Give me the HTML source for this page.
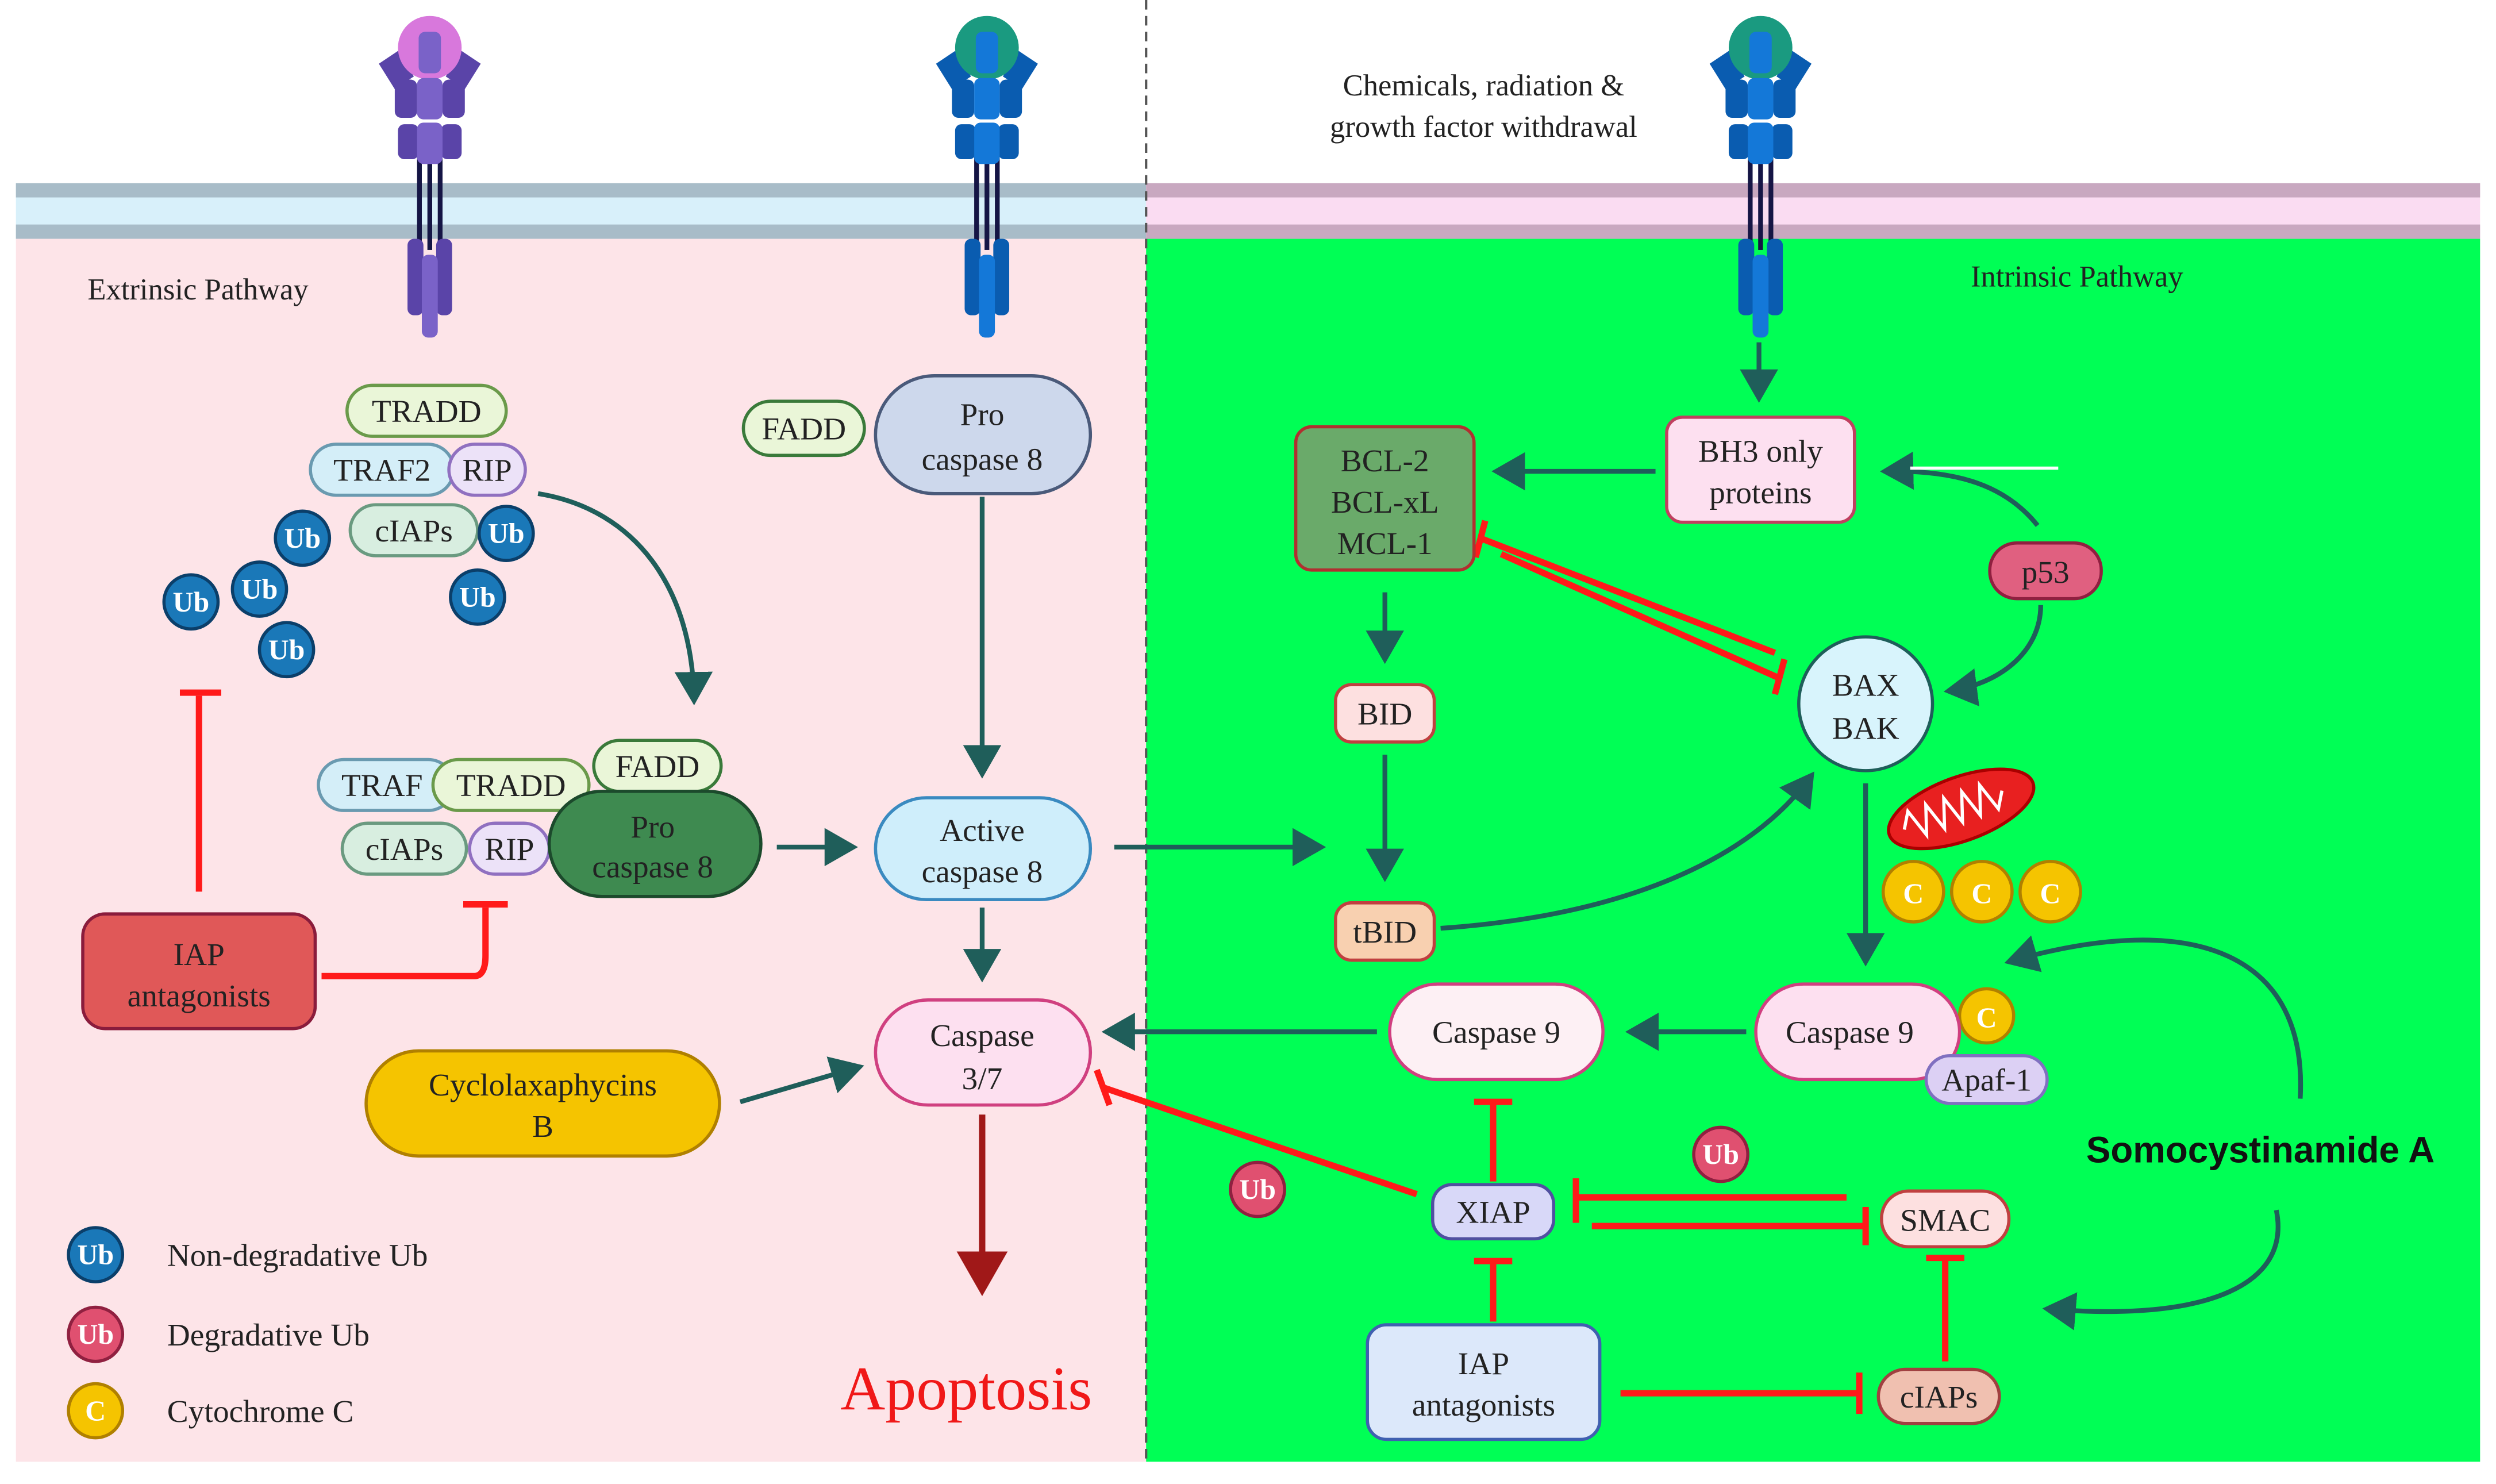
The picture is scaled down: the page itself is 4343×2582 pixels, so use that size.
<!DOCTYPE html>
<html><head><meta charset="utf-8"><style>
html,body{margin:0;padding:0;background:#fff}
svg{display:block}
text{font-family:"Liberation Serif",serif;fill:#222}
</style></head><body>
<svg width="4343" height="2582" viewBox="0 0 1568 932" preserveAspectRatio="none" xmlns="http://www.w3.org/2000/svg">
<defs>
<marker id="ah" markerWidth="8" markerHeight="8" refX="6" refY="4" orient="auto" markerUnits="strokeWidth"><path d="M0,0 L7,4 L0,8 Z" fill="#1f5e5a"/></marker>
<marker id="ahr" markerWidth="8" markerHeight="8" refX="6" refY="4" orient="auto" markerUnits="strokeWidth"><path d="M0,0 L7,4 L0,8 Z" fill="#a01818"/></marker>
<g id="rec">
  <rect x="-8" y="97" width="3" height="55" fill="#151545"/>
  <rect x="-1.5" y="97" width="3" height="60" fill="#151545"/>
  <rect x="5" y="97" width="3" height="55" fill="#151545"/>
  <path d="M-32,40 l12,-8 l10,16 l-12,8z" style="fill:var(--d)"/>
  <path d="M32,40 l-12,-8 l-10,16 l12,8z" style="fill:var(--d)"/>
  <circle cx="0" cy="30" r="20" style="fill:var(--h)"/>
  <rect x="-7" y="20" width="14" height="26" rx="4" style="fill:var(--l)"/>
  <rect x="-22" y="50" width="14" height="24" rx="4" style="fill:var(--d)"/>
  <rect x="8" y="50" width="14" height="24" rx="4" style="fill:var(--d)"/>
  <rect x="-8" y="49" width="16" height="26" rx="4" style="fill:var(--l)"/>
  <rect x="-20" y="78" width="13" height="22" rx="4" style="fill:var(--d)"/>
  <rect x="7" y="78" width="13" height="22" rx="4" style="fill:var(--d)"/>
  <rect x="-8" y="77" width="16" height="26" rx="4" style="fill:var(--l)"/>
  <rect x="-14" y="150" width="10" height="48" rx="4" style="fill:var(--d)"/>
  <rect x="4" y="150" width="10" height="48" rx="4" style="fill:var(--d)"/>
  <rect x="-5" y="160" width="10" height="52" rx="4" style="fill:var(--l)"/>
</g>
</defs>
<!-- membrane -->
<rect x="10" y="115" width="710" height="35" fill="#d8f0fa"/>
<rect x="10" y="115" width="710" height="9" fill="#a8bcc8"/>
<rect x="10" y="141" width="710" height="9" fill="#a8bcc8"/>
<rect x="720" y="115" width="838" height="35" fill="#fadcf2"/>
<rect x="720" y="115" width="838" height="9" fill="#c8a8c0"/>
<rect x="720" y="141" width="838" height="9" fill="#c8a8c0"/>
<!-- panels -->
<rect x="10" y="150" width="710" height="768" fill="#fde4e8"/>
<rect x="720" y="150" width="838" height="768" fill="#00ff55"/>
<line x1="720" y1="0" x2="720" y2="918" stroke="#555" stroke-width="1.5" stroke-dasharray="6,4"/>
<g style="--d:#5a44a8;--l:#7a62c8;--h:#d878dc" transform="translate(270,0)"><use href="#rec"/></g>
<g style="--d:#0a5cb0;--l:#1478d8;--h:#1a9a80" transform="translate(620,0)"><use href="#rec"/></g>
<g style="--d:#0a5cb0;--l:#1478d8;--h:#1a9a80" transform="translate(1106,0)"><use href="#rec"/></g>

<text x="55" y="188" font-size="19">Extrinsic Pathway</text>
<text x="1238" y="180" font-size="19">Intrinsic Pathway</text>
<text x="932" y="60" font-size="19" text-anchor="middle">Chemicals, radiation &amp;</text>
<text x="932" y="86" font-size="19" text-anchor="middle">growth factor withdrawal</text>

<g font-size="20" text-anchor="middle">
<rect x="218" y="242" width="100" height="32" rx="16" fill="#eaf6d8" stroke="#6a9a4a" stroke-width="2"/><text x="268" y="265">TRADD</text>
<rect x="195" y="279" width="90" height="32" rx="16" fill="#d4eef8" stroke="#6a9ab0" stroke-width="2"/><text x="240" y="302">TRAF2</text>
<rect x="282" y="279" width="48" height="32" rx="16" fill="#ece2f8" stroke="#9070c0" stroke-width="2"/><text x="306" y="302">RIP</text>
<rect x="220" y="317" width="80" height="32" rx="16" fill="#d8eee0" stroke="#6a9a80" stroke-width="2"/><text x="260" y="340">cIAPs</text>
</g>
<g font-size="18" font-weight="bold" text-anchor="middle">
<g fill="#1a78b8" stroke="#0b3f6a" stroke-width="2">
<circle cx="190" cy="338" r="17"/><circle cx="318" cy="335" r="17"/><circle cx="300" cy="375" r="17"/>
<circle cx="163" cy="370" r="17"/><circle cx="120" cy="378" r="17"/><circle cx="180" cy="408" r="17"/>
<circle cx="60" cy="788" r="17"/>
</g>
<text x="190" y="344" style="fill:#fff">Ub</text><text x="318" y="341" style="fill:#fff">Ub</text><text x="300" y="381" style="fill:#fff">Ub</text>
<text x="163" y="376" style="fill:#fff">Ub</text><text x="120" y="384" style="fill:#fff">Ub</text><text x="180" y="414" style="fill:#fff">Ub</text>
<text x="60" y="794" style="fill:#fff">Ub</text>
<g fill="#e05070" stroke="#902040" stroke-width="2">
<circle cx="60" cy="838" r="17"/><circle cx="790" cy="747" r="17"/><circle cx="1081" cy="725" r="17"/>
</g>
<text x="60" y="844" style="fill:#fff">Ub</text><text x="790" y="753" style="fill:#fff">Ub</text><text x="1081" y="731" style="fill:#fff">Ub</text>
<g fill="#f5c400" stroke="#b08000" stroke-width="2">
<circle cx="60" cy="886" r="17"/><circle cx="1202" cy="560" r="19"/><circle cx="1245" cy="560" r="19"/><circle cx="1288" cy="560" r="19"/><circle cx="1248" cy="638" r="17"/>
</g>
<text x="60" y="892" style="fill:#fff">C</text><text x="1202" y="567" style="fill:#fff">C</text><text x="1245" y="567" style="fill:#fff">C</text><text x="1288" y="567" style="fill:#fff">C</text><text x="1248" y="645" style="fill:#fff">C</text>
</g>
<g font-size="20">
<text x="105" y="795">Non-degradative Ub</text>
<text x="105" y="845">Degradative Ub</text>
<text x="105" y="893">Cytochrome C</text>
</g>

<path d="M338,310 C400,320 435,370 436,440" fill="none" stroke="#1f5e5a" stroke-width="3" marker-end="url(#ah)"/>

<g font-size="20" text-anchor="middle">
<rect x="200" y="477" width="85" height="32" rx="16" fill="#d4eef8" stroke="#6a9ab0" stroke-width="2"/><text x="240" y="500">TRAF</text>
<rect x="272" y="477" width="98" height="32" rx="16" fill="#eaf6d8" stroke="#6a9a4a" stroke-width="2"/><text x="321" y="500">TRADD</text>
<rect x="373" y="465" width="80" height="32" rx="16" fill="#eaf6d8" stroke="#3a7a3a" stroke-width="2"/><text x="413" y="488">FADD</text>
<rect x="215" y="517" width="78" height="32" rx="16" fill="#d8eee0" stroke="#6a9a80" stroke-width="2"/><text x="254" y="540">cIAPs</text>
<rect x="295" y="517" width="50" height="32" rx="16" fill="#ece2f8" stroke="#9070c0" stroke-width="2"/><text x="320" y="540">RIP</text>
<rect x="345" y="497" width="133" height="66" rx="33" fill="#3e8a50" stroke="#1c4a2c" stroke-width="2"/><text x="410" y="526">Pro</text><text x="410" y="551">caspase 8</text>

<rect x="467" y="252" width="76" height="34" rx="17" fill="#eaf6d8" stroke="#3a7a3a" stroke-width="2"/><text x="505" y="276">FADD</text>
<rect x="550" y="236" width="135" height="74" rx="37" fill="#cdd8ec" stroke="#4a5a7a" stroke-width="2"/><text x="617" y="267">Pro</text><text x="617" y="295">caspase 8</text>

<rect x="550" y="501" width="135" height="64" rx="32" fill="#cfeefb" stroke="#3a8ac0" stroke-width="2"/><text x="617" y="528">Active</text><text x="617" y="554">caspase 8</text>
<rect x="550" y="628" width="135" height="66" rx="33" fill="#fde0f0" stroke="#d04080" stroke-width="2"/><text x="617" y="657">Caspase</text><text x="617" y="684">3/7</text>

<rect x="52" y="574" width="146" height="72" rx="14" fill="#e05858" stroke="#8a1c3c" stroke-width="2"/><text x="125" y="606">IAP</text><text x="125" y="632">antagonists</text>
<rect x="230" y="660" width="222" height="66" rx="33" fill="#f5c400" stroke="#b08000" stroke-width="2"/><text x="341" y="688">Cyclolaxaphycins</text><text x="341" y="714">B</text>
</g>
<text x="607" y="885" font-size="39" text-anchor="middle" style="fill:#f01818">Apoptosis</text>

<g stroke="#1f5e5a" stroke-width="3" fill="none" marker-end="url(#ah)">
<line x1="617" y1="312" x2="617" y2="486"/>
<line x1="488" y1="532" x2="536" y2="532"/>
<line x1="700" y1="532" x2="830" y2="532"/>
<line x1="617" y1="570" x2="617" y2="614"/>
<line x1="465" y1="692" x2="540" y2="670"/>
<line x1="1105" y1="215" x2="1105" y2="250"/>
<line x1="1040" y1="296" x2="940" y2="296"/>
<line x1="870" y1="372" x2="870" y2="414"/>
<line x1="870" y1="474" x2="870" y2="551"/>
<line x1="1172" y1="492" x2="1172" y2="604"/>
<line x1="1097" y1="648" x2="1024" y2="648"/>
<line x1="865" y1="648" x2="695" y2="648"/>
<path d="M905,583 C1020,575 1100,540 1138,487"/>
<path d="M1280,330 C1260,305 1230,295 1184,296"/>
<path d="M1282,380 C1282,410 1255,430 1224,434"/>
<path d="M1445,690 C1450,600 1380,570 1262,604"/>
<path d="M1430,760 C1440,810 1380,830 1286,822"/>
</g>
<line x1="1200" y1="294" x2="1293" y2="294" stroke="#fff" stroke-width="2"/>
<line x1="617" y1="700" x2="617" y2="810" stroke="#a01818" stroke-width="4" marker-end="url(#ahr)"/>

<g stroke="#ff1a1a" stroke-width="4" fill="none">
<path d="M125,560 V437"/><path d="M113,435 H139"/>
<path d="M202,613 H298 Q305,613 305,600 V570"/><path d="M291,568 H319"/>
<path d="M930,338 L1115,410"/><path d="M943,348 L1118,426"/>
<path d="M933,327 L927,350"/><path d="M1121,414 L1115,436"/>
<path d="M890,750 L693,683"/><path d="M689,672 L697,694"/>
<path d="M938,742 V693"/><path d="M926,692 H950"/>
<path d="M1160,752 H990"/><path d="M990,740 V768"/>
<path d="M1000,770 H1172"/><path d="M1172,758 V782"/>
<path d="M938,830 V792"/><path d="M926,792 H950"/>
<path d="M1018,875 H1168"/><path d="M1168,862 V888"/>
<path d="M1222,855 V790"/><path d="M1210,790 H1234"/>
</g>

<g transform="translate(1232,508) rotate(-20)">
<ellipse cx="0" cy="0" rx="48" ry="20" fill="#e82020" stroke="#a00" stroke-width="2"/>
<path d="M-38,0 l6,-10 l6,18 l6,-18 l6,18 l6,-18 l6,18 l6,-18 l6,18 l6,-18 l6,18 l6,-10" fill="none" stroke="#fff" stroke-width="2"/>
</g>

<g font-size="20" text-anchor="middle">
<rect x="1047" y="262" width="118" height="66" rx="10" fill="#fde0f0" stroke="#c04060" stroke-width="2"/><text x="1106" y="290">BH3 only</text><text x="1106" y="316">proteins</text>
<rect x="814" y="268" width="112" height="90" rx="10" fill="#6aaa6a" stroke="#b03030" stroke-width="2"/><text x="870" y="296">BCL-2</text><text x="870" y="322">BCL-xL</text><text x="870" y="348">MCL-1</text>
<rect x="1250" y="341" width="70" height="35" rx="17" fill="#e06080" stroke="#902040" stroke-width="2"/><text x="1285" y="366">p53</text>
<circle cx="1172" cy="442" r="42" fill="#d8f4fc" stroke="#1f5e5a" stroke-width="2"/><text x="1172" y="437">BAX</text><text x="1172" y="464">BAK</text>
<rect x="839" y="430" width="62" height="36" rx="10" fill="#fde0e0" stroke="#c04040" stroke-width="2"/><text x="870" y="455">BID</text>
<rect x="839" y="567" width="62" height="36" rx="10" fill="#f8d0b0" stroke="#c04040" stroke-width="2"/><text x="870" y="592">tBID</text>
<rect x="1103" y="618" width="128" height="60" rx="30" fill="#fde0f0" stroke="#d04080" stroke-width="2"/><text x="1162" y="655">Caspase 9</text>
<rect x="1210" y="663" width="76" height="30" rx="15" fill="#dcd0f4" stroke="#8070c0" stroke-width="2"/><text x="1248" y="685">Apaf-1</text>
<rect x="873" y="618" width="134" height="60" rx="30" fill="#fdf0f4" stroke="#d04080" stroke-width="2"/><text x="940" y="655">Caspase 9</text>
<rect x="900" y="744" width="76" height="34" rx="12" fill="#d8d8f8" stroke="#5050a0" stroke-width="2"/><text x="938" y="768">XIAP</text>
<rect x="1182" y="748" width="80" height="35" rx="17" fill="#fde0e0" stroke="#c04040" stroke-width="2"/><text x="1222" y="773">SMAC</text>
<rect x="859" y="832" width="146" height="72" rx="12" fill="#dce8fa" stroke="#4060b0" stroke-width="2"/><text x="932" y="863">IAP</text><text x="932" y="889">antagonists</text>
<rect x="1180" y="860" width="76" height="34" rx="17" fill="#f0c0b0" stroke="#a04040" stroke-width="2"/><text x="1218" y="884">cIAPs</text>
</g>
<text x="1420" y="730" font-size="23" font-weight="bold" text-anchor="middle" style="font-family:'Liberation Sans',sans-serif;fill:#111">Somocystinamide A</text>
</svg>
</body></html>
